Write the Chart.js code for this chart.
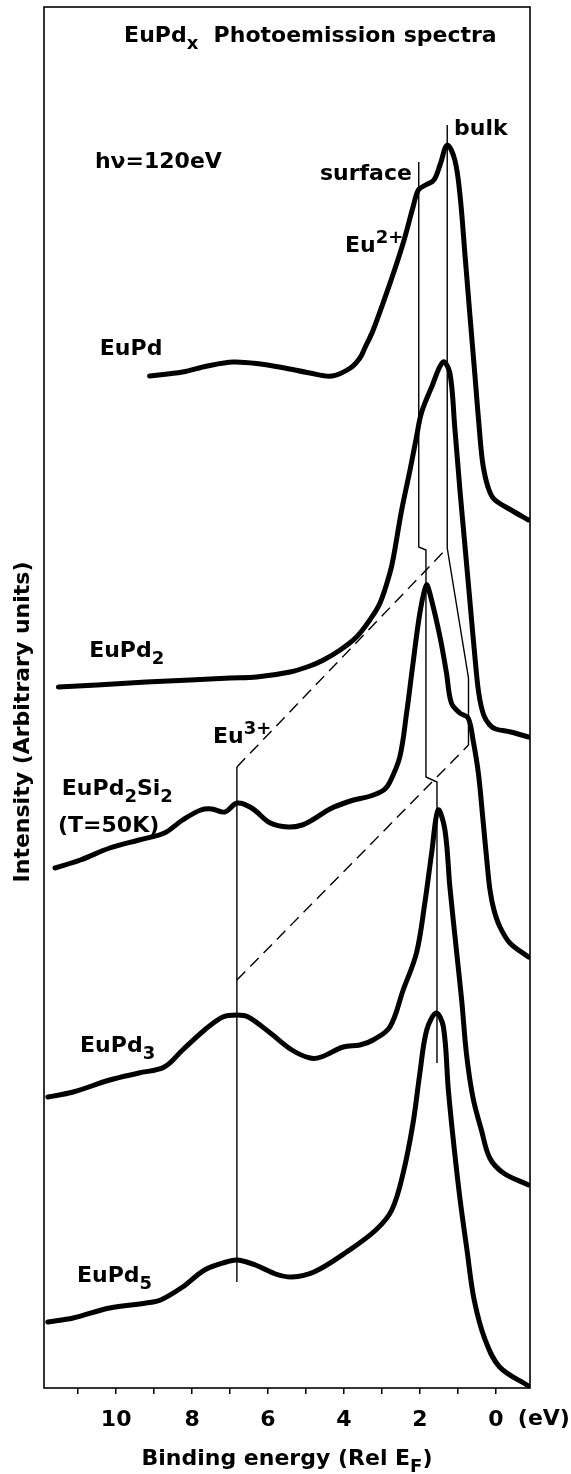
<!DOCTYPE html>
<html>
<head>
<meta charset="utf-8">
<script src="https://cdn.jsdelivr.net/npm/chart.js@4.4.1/dist/chart.umd.min.js"></script>
<style>
  html,body{margin:0;padding:0;background:#fff}
  canvas{display:block}
</style>
</head>
<body>
<canvas id="spektrum" width="571" height="1474"></canvas>
<script>
/* ---- spectra: binding energy (eV) / intensity incl. vertical offset ---- */
const euPdE   = [9.12, 8.25, 7.6, 6.91, 6.2, 5.56, 4.9, 4.31, 3.83, 3.58, 3.45, 3.23, 2.74, 2.44, 2.18, 2.04, 1.85, 1.63, 1.47, 1.28, 1.08, 0.944, 0.812, 0.681, 0.549, 0.417, 0.338, 0.207, 0.049, -0.40, -0.86];
const euPdI   = [101.2, 101.6, 102.2, 102.6, 102.4, 102.0, 101.5, 101.2, 102.0, 103.0, 104.0, 105.8, 111.0, 114.5, 118.1, 119.8, 120.3, 120.8, 122.3, 124.3, 122.8, 119.3, 113.3, 107.2, 101.2, 95.1, 92.3, 90.1, 88.9, 87.8, 86.8];

const euPd2E  = [11.52, 10.5, 9.21, 8.05, 7.0, 6.3, 5.42, 4.9, 4.54, 4.1, 3.67, 3.32, 3.05, 2.79, 2.70, 2.48, 2.26, 2.09, 1.96, 1.69, 1.39, 1.21, 1.08, 0.95, 0.82, 0.69, 0.56, 0.45, 0.32, 0.16, 0.0, -0.39, -0.86];
const euPd2I  = [70.1, 70.3, 70.6, 70.8, 71.0, 71.1, 71.6, 72.2, 72.8, 73.8, 75.1, 76.8, 78.5, 81.5, 83.0, 87.8, 91.8, 95.1, 97.5, 100.1, 102.6, 101.5, 96.0, 90.0, 84.5, 79.0, 73.5, 69.5, 67.3, 66.3, 65.9, 65.6, 65.1];

const euPd2Si2E = [11.61, 10.94, 10.17, 9.40, 8.73, 8.25, 7.77, 7.48, 7.14, 6.81, 6.43, 5.94, 5.47, 5.1, 4.79, 4.37, 3.83, 3.3, 2.95, 2.79, 2.53, 2.35, 2.18, 2.0, 1.83, 1.74, 1.47, 1.30, 1.17, 0.95, 0.73, 0.60, 0.46, 0.338, 0.233, 0.154, 0.049, -0.109, -0.37, -0.86];
const euPd2Si2I = [52.0, 52.8, 54.0, 54.8, 55.5, 56.8, 57.8, 57.9, 57.6, 58.5, 58.0, 56.5, 56.1, 56.3, 56.9, 57.9, 58.7, 59.2, 59.8, 60.6, 63.1, 67.5, 72.5, 77.5, 80.3, 79.5, 75.1, 71.5, 68.5, 67.5, 67.0, 64.8, 61.5, 56.8, 52.6, 49.8, 47.8, 46.1, 44.5, 43.1];

const euPd3E  = [11.8, 11.13, 10.17, 9.40, 8.73, 8.25, 7.67, 7.19, 6.81, 6.52, 5.94, 5.37, 4.89, 4.60, 4.02, 3.58, 3.23, 2.79, 2.44, 2.09, 1.87, 1.69, 1.52, 1.34, 1.21, 1.03, 0.90, 0.77, 0.60, 0.38, 0.16, -0.2, -0.86];
const euPd3I  = [29.1, 29.6, 30.8, 31.5, 32.1, 33.8, 35.8, 37.1, 37.3, 37.1, 35.5, 33.8, 33.0, 33.1, 34.1, 34.3, 34.8, 36.1, 39.8, 43.5, 48.5, 53.5, 57.8, 55.8, 50.1, 43.5, 38.8, 33.3, 29.0, 25.8, 23.0, 21.5, 20.3];

const euPd5E  = [11.8, 11.13, 10.17, 9.21, 8.83, 8.25, 7.67, 7.10, 6.81, 6.33, 5.8, 5.37, 4.79, 3.93, 3.16, 2.74, 2.44, 2.18, 2.0, 1.82, 1.57, 1.38, 1.25, 1.12, 0.95, 0.76, 0.57, 0.28, -0.1, -0.86];
const euPd5I  = [6.6, 7.0, 8.0, 8.5, 8.8, 10.1, 11.8, 12.6, 12.8, 12.3, 11.4, 11.1, 11.6, 13.6, 15.8, 17.8, 21.5, 26.5, 31.5, 35.8, 37.5, 36.1, 29.8, 24.8, 19.1, 13.8, 8.8, 4.8, 2.1, 0.2];

/* ---- marker lines (Eu2+ surface/bulk, Eu3+) ---- */
const bulkE    = [1.28, 1.28, 0.72, 0.72];
const bulkI    = [126.3, 84.0, 71.0, 64.3];
const surfE    = [2.03, 2.03, 1.84, 1.84, 1.55, 1.55];
const surfI    = [122.6, 84.1, 83.8, 61.1, 60.6, 32.5];
const eu3E     = [6.82, 6.82];
const eu3I     = [62.1, 10.6];
const dashHiE  = [6.82, 1.28];
const dashHiI  = [62.1, 84.0];
const dashLoE  = [6.82, 0.72];
const dashLoI  = [40.8, 64.3];

/* ---- axis ---- */
const eMin = -0.9, eMax = 11.9;
const iMin = 0, iMax = 138.1;
const tickStep = 1;

const FONT = '"DejaVu Sans", sans-serif';
const UK = 22;
const pts = (E, I) => E.map((e, i) => ({x: e, y: I[i]}));

function kurva(E, I){
  return {data: pts(E, I), borderColor:'#000', borderWidth:5, pointRadius:0,
    tension:0.35, borderCapStyle:'round', borderJoinStyle:'round', fill:false};
}
function garis(E, I, dash){
  return {data: pts(E, I), borderColor:'#000', borderWidth:1.4, pointRadius:0,
    tension:0, borderDash: dash || [], fill:false};
}

/* label teks dengan sub/superskrip */
function teks(ctx, x, y, parts, size, align){
  const w = parts.reduce((a, p) => {
    ctx.font = `bold ${p[1] ? Math.round(size*0.8) : size}px ${FONT}`;
    return a + ctx.measureText(p[0]).width;
  }, 0);
  let cx = align === 'right' ? x - w : (align === 'center' ? x - w/2 : x);
  ctx.textAlign = 'left';
  ctx.textBaseline = 'alphabetic';
  parts.forEach(p => {
    ctx.font = `bold ${p[1] ? Math.round(size*0.8) : size}px ${FONT}`;
    const dy = p[1] === 'sub' ? size*0.33 : (p[1] === 'sup' ? -size*0.42 : 0);
    ctx.fillText(p[0], cx, y + dy);
    cx += ctx.measureText(p[0]).width;
  });
}

const catatan = [
  {e:9.79,  v:134.6, parts:[['EuPd'],['x','sub'],['  Photoemission spectra']]},
  {e:10.56, v:122.0, parts:[['hν=120eV']]},
  {e:2.21,  v:120.8, parts:[['surface']], align:'right'},
  {e:1.10,  v:125.3, parts:[['bulk']]},
  {e:3.97,  v:113.6, parts:[['Eu'],['2+','sup']]},
  {e:10.43, v:103.3, parts:[['EuPd']]},
  {e:10.71, v:73.1,  parts:[['EuPd'],['2','sub']]},
  {e:7.45,  v:64.5,  parts:[['Eu'],['3+','sup']]},
  {e:11.43, v:59.3,  parts:[['EuPd'],['2','sub'],['Si'],['2','sub']]},
  {e:11.53, v:55.6,  parts:[['(T=50K)']]},
  {e:10.95, v:33.6,  parts:[['EuPd'],['3','sub']]},
  {e:11.03, v:10.6,  parts:[['EuPd'],['5','sub']]}
];

const hiasan = {
  id:'hiasan',
  beforeDatasetsDraw(chart){
    const {ctx, chartArea:a} = chart;
    ctx.save();
    ctx.strokeStyle = '#000';
    ctx.lineWidth = 1.6;
    ctx.strokeRect(a.left, a.top, a.right - a.left, a.bottom - a.top);
    ctx.restore();
  },
  afterDraw(chart){
    const {ctx, chartArea:a, scales:{x, y}} = chart;
    ctx.save();
    ctx.fillStyle = '#000';
    catatan.forEach(c => teks(ctx, x.getPixelForValue(c.e), y.getPixelForValue(c.v), c.parts, UK, c.align));
    // satuan di samping label 0
    ctx.font = `bold ${UK}px ${FONT}`;
    ctx.textAlign = 'left';
    ctx.textBaseline = 'middle';
    ctx.fillText('(eV)', x.getPixelForValue(0) + 22, a.bottom + 6 + 13 + 12.6);
    // judul sumbu x
    teks(ctx, (a.left + a.right)/2, a.bottom + 77, [['Binding energy (Rel E'],['F','sub'],[')']], UK, 'center');
    // judul sumbu y
    ctx.translate(29, 722);
    ctx.rotate(-Math.PI/2);
    teks(ctx, 0, 0, [['Intensity (Arbitrary units)']], UK, 'center');
    ctx.restore();
  }
};

new Chart(document.getElementById('spektrum'), {
  type:'line',
  data:{datasets:[
    kurva(euPdE, euPdI),
    kurva(euPd2E, euPd2I),
    kurva(euPd2Si2E, euPd2Si2I),
    kurva(euPd3E, euPd3I),
    kurva(euPd5E, euPd5I),
    garis(bulkE, bulkI),
    garis(surfE, surfI),
    garis(eu3E, eu3I),
    garis(dashHiE, dashHiI, [12, 7]),
    garis(dashLoE, dashLoI, [12, 7])
  ]},
  options:{
    responsive:false, animation:false,
    layout:{padding:{left:44, right:41, top:7, bottom:0}},
    plugins:{legend:{display:false}, tooltip:{enabled:false}},
    scales:{
      x:{type:'linear', reverse:true, min:eMin, max:eMax,
        afterFit(s){ s.height = 86; },
        border:{display:false},
        grid:{display:true, drawOnChartArea:false, drawTicks:true, tickLength:6, color:'#000', lineWidth:1.5},
        ticks:{stepSize:tickStep, includeBounds:false, autoSkip:false, maxRotation:0, padding:13, color:'#000',
          font:{family:FONT, size:UK, weight:'bold'},
          callback: v => (Math.abs(v % 2) < 1e-6 ? String(Math.round(v)) : '')}
      },
      y:{display:false, min:iMin, max:iMax}
    }
  },
  plugins:[hiasan]
});
</script>
</body>
</html>
